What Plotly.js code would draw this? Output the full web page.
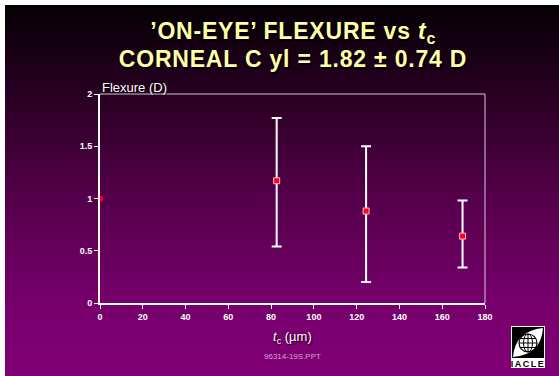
<!DOCTYPE html>
<html>
<head>
<meta charset="utf-8">
<script src="https://cdn.plot.ly/plotly-3.0.1.min.js"></script>
<style>
  html, body { margin: 0; padding: 0; }
  body { width: 559px; height: 376px; overflow: hidden; background: #ffffff; }
  #wrap { position: absolute; left: 5px; top: 5px; width: 554px; height: 371px;
          background: linear-gradient(to bottom, #050004 0%, #2a0024 25%, #520048 50%, #74006a 78%, #820076 100%); }
  #chart { position: absolute; left: 0; top: 0; width: 559px; height: 376px; }
  g.annotation[data-index="0"] text, g.annotation[data-index="1"] text { letter-spacing: 0.8px; }
</style>
</head>
<body>
<div id="wrap"></div>
<div id="chart"></div>
<script>
// Data
var originTc = [0];                              // reference point at t_c = 0
var originFlexure = [1.0];
var tcValues = [82.6, 124.4, 169.5];             // corneal thickness t_c (µm)
var flexureValues = [1.17, 0.88, 0.64];          // flexure (D)
var errorPlus = [0.60, 0.62, 0.34];
var errorMinus = [0.63, 0.68, 0.30];
var xTickValues = [0, 20, 40, 60, 80, 100, 120, 140, 160, 180];
var yTickValues = [0, 0.5, 1, 1.5, 2];
var yTickLabels = ['0', '0.5', '1', '1.5', '2'];

var FONT = 'Liberation Sans, Arial, Helvetica, sans-serif';

var originTrace = {
  x: originTc, y: originFlexure, type: 'scatter', mode: 'markers', cliponaxis: true,
  marker: { symbol: 'circle', size: 6, color: '#ff0000', line: { width: 0 } },
  hoverinfo: 'none'
};

var trace = {
  x: tcValues,
  y: flexureValues,
  type: 'scatter',
  mode: 'markers',
  cliponaxis: false,
  marker: { symbol: 'square', size: 6, color: '#ff0022', line: { color: '#ffb8c8', width: 1 } },
  error_y: {
    type: 'data', symmetric: false,
    array: errorPlus, arrayminus: errorMinus,
    color: '#ffffff', thickness: 2, width: 5
  },
  hoverinfo: 'none'
};

var layout = {
  width: 559, height: 376,
  margin: { l: 100, r: 74, t: 94, b: 73, pad: 0 },
  paper_bgcolor: 'rgba(0,0,0,0)',
  plot_bgcolor: 'rgba(0,0,0,0)',
  showlegend: false,
  xaxis: {
    range: [0, 180], tickvals: xTickValues, ticktext: xTickValues.map(String),
    showgrid: false, zeroline: false,
    showline: true, linecolor: '#ffffff', linewidth: 2,
    ticks: 'outside', ticklen: 4, tickcolor: '#ffffff', tickwidth: 1,
    tickfont: { family: FONT, size: 9, color: '#ffffff', weight: 'bold' }
  },
  yaxis: {
    range: [0, 2], tickvals: yTickValues, ticktext: yTickLabels,
    showgrid: false, zeroline: false,
    showline: true, linecolor: '#ffffff', linewidth: 2,
    ticks: 'outside', ticklen: 4, tickcolor: '#ffffff', tickwidth: 1,
    tickfont: { family: FONT, size: 9, color: '#ffffff', weight: 'bold' }
  },
  shapes: [
    { type: 'line', xref: 'paper', yref: 'paper', x0: 0, x1: 1, y0: 1, y1: 1,
      line: { color: '#d8c8d8', width: 1 } },
    { type: 'line', xref: 'paper', yref: 'paper', x0: 1, x1: 1, y0: 0, y1: 1,
      line: { color: '#d8c8d8', width: 1 } }
  ],
  annotations: [
    { text: "’ON-EYE’ FLEXURE vs <i>t</i><sub>c</sub>", xref: 'paper', yref: 'paper',
      x: 0.5, y: 1, xanchor: 'center', yanchor: 'bottom', yshift: 45, showarrow: false,
      font: { family: FONT, size: 23, color: '#ffffa8', weight: 'bold', shadow: '2px 2px 1px #000000' } },
    { text: 'CORNEAL C yl = 1.82 ± 0.74 D', xref: 'paper', yref: 'paper',
      x: 0.5, y: 1, xanchor: 'center', yanchor: 'bottom', yshift: 20, showarrow: false,
      font: { family: FONT, size: 23, color: '#ffffa8', weight: 'bold', shadow: '2px 2px 1px #000000' } },
    { text: 'Flexure (D)', xref: 'paper', yref: 'paper',
      x: 0, y: 1, xanchor: 'left', yanchor: 'bottom', yshift: -3, showarrow: false,
      font: { family: FONT, size: 13, color: '#ffffff', shadow: '1px 1px 1px #000000' } },
    { text: '<i>t</i><sub>c</sub> (µm)', xref: 'paper', yref: 'paper',
      x: 0.5, y: 0, xanchor: 'center', yanchor: 'top', yshift: -24, showarrow: false,
      font: { family: FONT, size: 13, color: '#ffffff', shadow: '1px 1px 1px #000000' } },
    { text: '96314-19S.PPT', xref: 'paper', yref: 'paper',
      x: 0.5, y: 0, xanchor: 'center', yanchor: 'top', yshift: -47, showarrow: false,
      font: { family: FONT, size: 8, color: '#d8a0d8' } }
  ],
  images: [
    { source: 'data:image/svg+xml;utf8,' + encodeURIComponent(
        '<svg xmlns="http://www.w3.org/2000/svg" width="34" height="42" viewBox="0 0 34 42">' +
        '<rect x="0" y="0" width="34" height="42" fill="#ffffff"/>' +
        '<rect x="1" y="1" width="32" height="31" fill="#000000"/>' +
        '<path d="M2 31 Q4 5 32 2 Q30 29 2 31 Z" fill="#ffffff"/>' +
        '<circle cx="17" cy="17" r="9" fill="none" stroke="#000" stroke-width="1.2"/>' +
        '<ellipse cx="17" cy="17" rx="4.5" ry="9" fill="none" stroke="#000" stroke-width="1"/>' +
        '<line x1="17" y1="8" x2="17" y2="26" stroke="#000" stroke-width="1"/>' +
        '<line x1="8" y1="17" x2="26" y2="17" stroke="#000" stroke-width="1"/>' +
        '<line x1="9" y1="12.5" x2="25" y2="12.5" stroke="#000" stroke-width="1"/>' +
        '<line x1="9" y1="21.5" x2="25" y2="21.5" stroke="#000" stroke-width="1"/>' +
        '<text x="17" y="41" font-family="Liberation Sans, Arial" font-weight="bold" font-size="9" text-anchor="middle" fill="#000" letter-spacing="1.5">IACLE</text>' +
        '</svg>'),
      xref: 'paper', yref: 'paper', x: 1, y: 0, xanchor: 'left', yanchor: 'top',
      sizex: 0, sizey: 0, sizing: 'stretch', layer: 'above' }
  ]
};

// place logo in pixel terms via paper fractions
var plotW = 559 - 100 - 74, plotH = 376 - 94 - 73;
layout.images[0].x = (511 - 100) / plotW;
layout.images[0].y = (303 - 326) / plotH;
layout.images[0].sizex = 34 / plotW;
layout.images[0].sizey = 42 / plotH;

Plotly.newPlot('chart', [originTrace, trace], layout, { displayModeBar: false, staticPlot: true });
</script>
</body>
</html>
